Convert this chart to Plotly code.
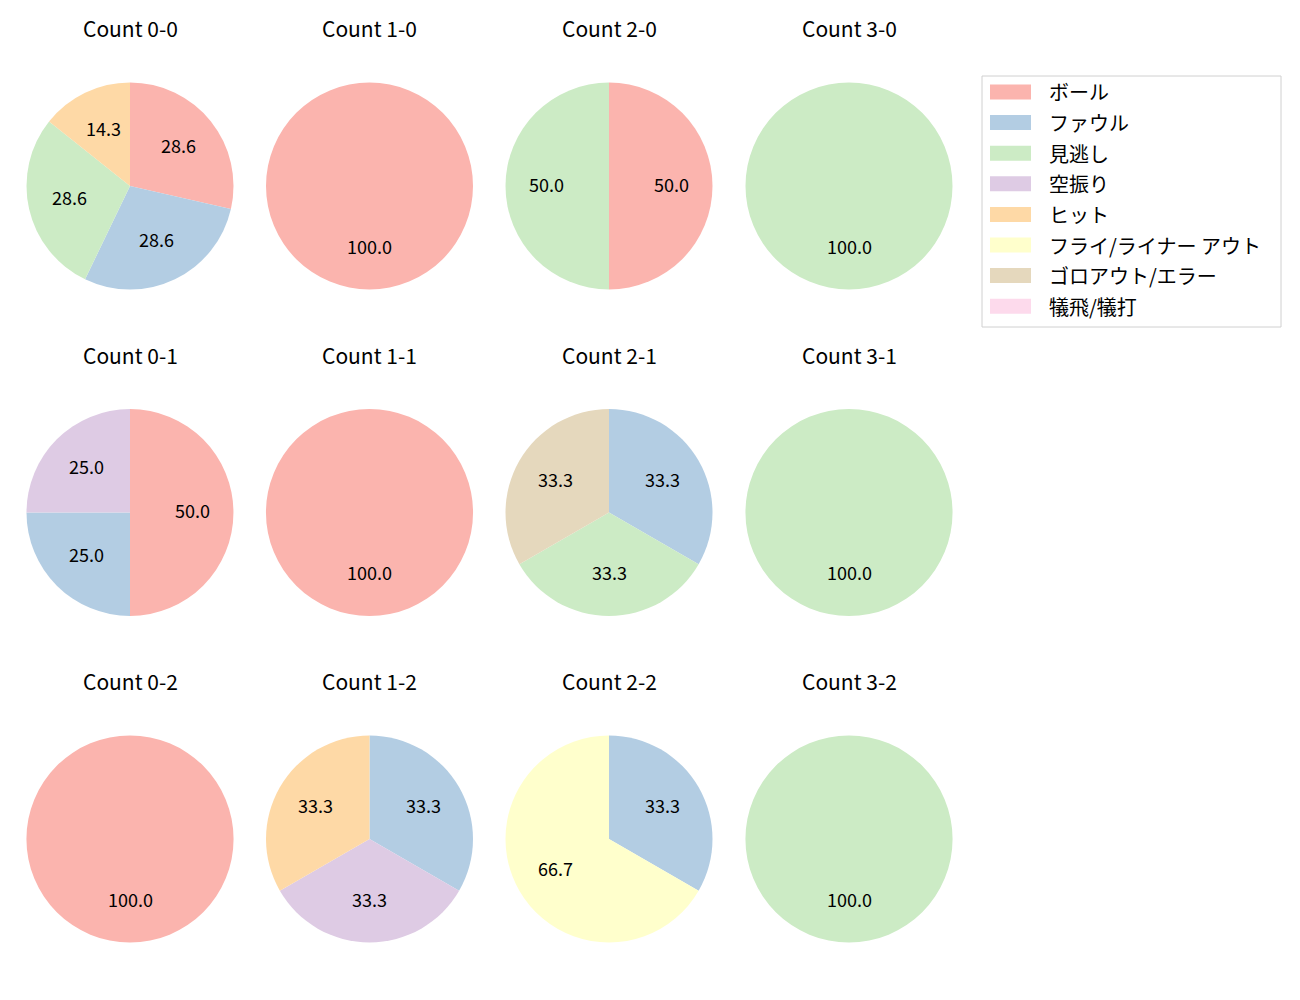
import plotly.graph_objects as go
import math

categories = ["ボール", "ファウル", "見逃し", "空振り", "ヒット",
              "フライ/ライナー アウト", "ゴロアウト/エラー", "犠飛/犠打"]
colors = ["#fbb4ae", "#b3cde3", "#ccebc5", "#decbe4", "#fed9a6",
          "#ffffcc", "#e5d8bd", "#fddaec"]

# counts per category (order as categories), per ball-strike count
count_titles = [["Count 0-0", "Count 1-0", "Count 2-0", "Count 3-0"],
                ["Count 0-1", "Count 1-1", "Count 2-1", "Count 3-1"],
                ["Count 0-2", "Count 1-2", "Count 2-2", "Count 3-2"]]
values_0_0 = [2, 2, 2, 0, 1, 0, 0, 0]
values_1_0 = [1, 0, 0, 0, 0, 0, 0, 0]
values_2_0 = [1, 0, 1, 0, 0, 0, 0, 0]
values_3_0 = [0, 0, 1, 0, 0, 0, 0, 0]
values_0_1 = [2, 1, 0, 1, 0, 0, 0, 0]
values_1_1 = [1, 0, 0, 0, 0, 0, 0, 0]
values_2_1 = [0, 1, 1, 0, 0, 0, 1, 0]
values_3_1 = [0, 0, 1, 0, 0, 0, 0, 0]
values_0_2 = [1, 0, 0, 0, 0, 0, 0, 0]
values_1_2 = [0, 1, 0, 1, 1, 0, 0, 0]
values_2_2 = [0, 1, 0, 0, 0, 2, 0, 0]
values_3_2 = [0, 0, 1, 0, 0, 0, 0, 0]
grid_values = [[values_0_0, values_1_0, values_2_0, values_3_0],
               [values_0_1, values_1_1, values_2_1, values_3_1],
               [values_0_2, values_1_2, values_2_2, values_3_2]]

W, H = 1300, 1000
OFF = 8  # page body margin offset
FONT = "Noto Sans CJK JP"
col_cx = [130, 369.5, 609, 849]
row_cy = [186, 512.5, 839]
R = 103.5
title_dy = 158
label_lift = 2.5


def px2x(x):
    return (x - OFF) / W


def px2y(y):
    return 1 - (y - OFF) / H


fig = go.Figure()
annotations = []
shapes = []

for ri in range(3):
    for ci in range(4):
        vals = grid_values[ri][ci]
        cx, cy = col_cx[ci], row_cy[ri]
        fig.add_trace(go.Pie(
            labels=categories, values=vals, sort=False,
            direction="clockwise", rotation=0,
            marker=dict(colors=colors, line=dict(width=0)),
            textinfo="none", hoverinfo="label+percent",
            showlegend=False,
            domain=dict(x=[px2x(cx - R), px2x(cx + R)],
                        y=[px2y(cy + R), px2y(cy - R)]),
        ))
        annotations.append(dict(
            text=count_titles[ri][ci], x=px2x(cx), y=px2y(cy - title_dy),
            xref="paper", yref="paper", showarrow=False,
            font=dict(family=FONT, size=21, color="#000"),
            xanchor="center", yanchor="middle"))
        total = sum(vals)
        cum = 0
        for v in vals:
            if v <= 0:
                continue
            mid = (cum + v / 2) / total
            th = 2 * math.pi * mid
            px = cx + 0.6 * R * math.sin(th)
            py = cy - 0.6 * R * math.cos(th) - label_lift
            annotations.append(dict(
                text=f"{100 * v / total:.1f}", x=px2x(px), y=px2y(py),
                xref="paper", yref="paper", showarrow=False,
                font=dict(family=FONT, size=18, color="#000"),
                xanchor="center", yanchor="middle"))
            cum += v

# legend (drawn manually to mimic wide patches)
lx0, lx1, ly0, ly1 = 982, 1281, 76, 327
shapes.append(dict(type="rect", xref="paper", yref="paper",
                   x0=px2x(lx0), x1=px2x(lx1), y0=px2y(ly1), y1=px2y(ly0),
                   line=dict(color="#d0d0d0", width=1), fillcolor="white"))
row0, rstep = 92, 30.6
for i, (lab, col) in enumerate(zip(categories, colors)):
    yc = row0 + i * rstep
    shapes.append(dict(type="rect", xref="paper", yref="paper",
                       x0=px2x(990), x1=px2x(1031),
                       y0=px2y(yc + 7.5), y1=px2y(yc - 7.5),
                       line=dict(width=0), fillcolor=col))
    annotations.append(dict(
        text=lab, x=px2x(1047), y=px2y(yc), xref="paper", yref="paper",
        showarrow=False, xanchor="left", yanchor="middle",
        font=dict(family=FONT, size=20, color="#000")))

fig.update_layout(
    width=W, height=H, margin=dict(l=0, r=0, t=0, b=0),
    paper_bgcolor="white", plot_bgcolor="white",
    annotations=annotations, shapes=shapes,
    font=dict(family=FONT),
)
fig.write_html("out.html")
